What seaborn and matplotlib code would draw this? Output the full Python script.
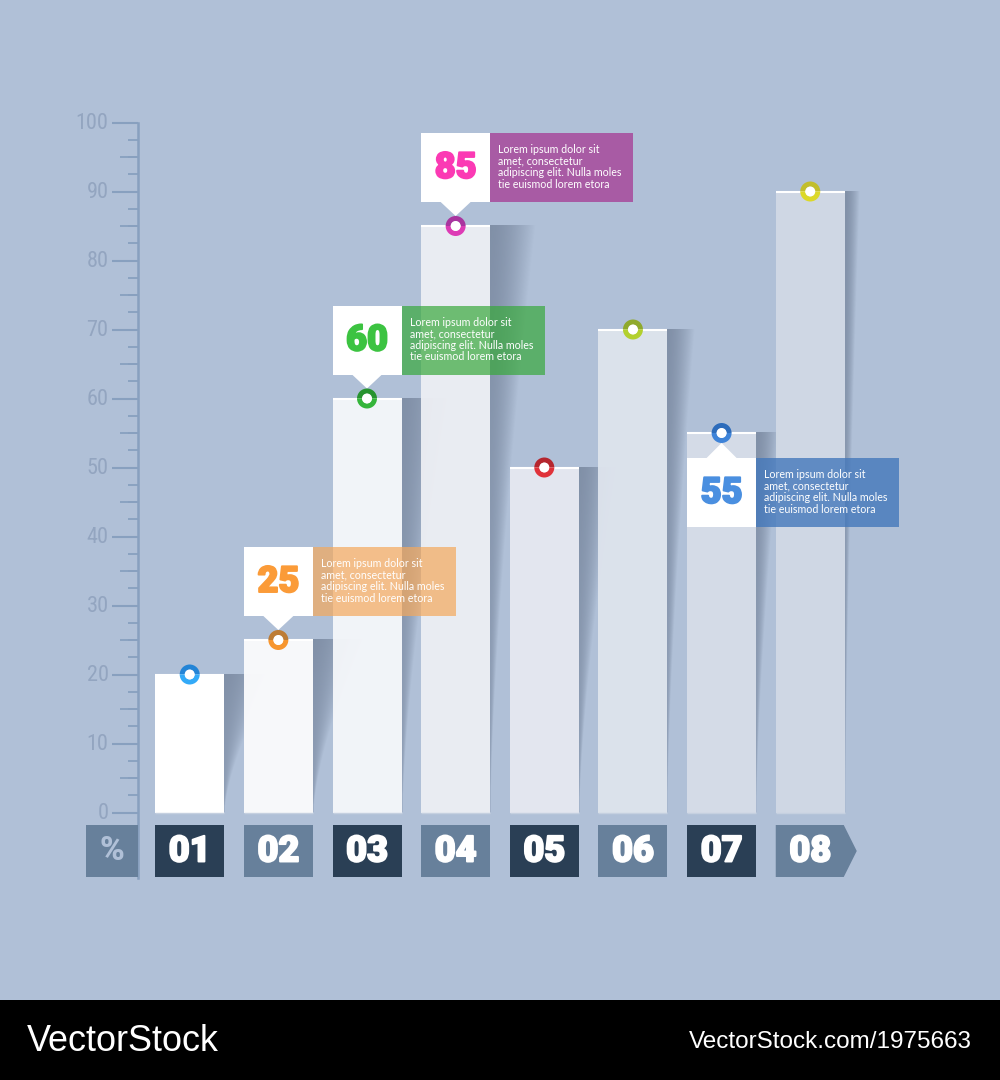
import numpy as np
import pandas as pd
import matplotlib
matplotlib.use("Agg")
import matplotlib.pyplot as plt
import matplotlib.patheffects as pe
from matplotlib import font_manager as fm
from matplotlib.colors import to_rgb
from matplotlib.patches import Rectangle, Polygon, Wedge, Circle
from matplotlib.transforms import Affine2D, ScaledTranslation
import seaborn as sns

categories = ["01", "02", "03", "04", "05", "06", "07", "08"]
values = [20, 25, 60, 85, 50, 70, 55, 90]
bar_colors = ["#ffffff", "#f8f9fb", "#f2f4f8", "#eaedf3", "#e3e7f0", "#dce2ec", "#d5dce7", "#cfd8e4"]
shadow_width = [50, 50, 50, 45, 36, 28, 24, 15]
pin_dark = ["#2384d6", "#bd7c35", "#27932f", "#a9359f", "#b5262e", "#8fa92c", "#2d6cbb", "#c2be2c"]
pin_light = ["#33aaf8", "#f7962f", "#35b53b", "#dd3bb5", "#e0323a", "#b3d02e", "#3e83d8", "#dcd828"]
callout_idx = [1, 2, 3, 6]
callout_num = ["#fb9b38", "#3cc341", "#fb3ab4", "#4a8fe0"]
callout_box = [("#f4a85c", .70), ("#38a83c", .70), ("#a8509f", .90), ("#4478bb", .80)]
lorem = "Lorem ipsum dolor sit\namet, consectetur\nadipiscing elit. Nulla moles\ntie euismod lorem etora"
BG = "#b0c0d7"
DARK, SLATE = "#2a3f55", "#67809b"
AXC = "#88a0bf"

sns.set_theme(style="white")
installed = {f.name for f in fm.fontManager.ttflist}
narrow = [n for n in ["Liberation Sans Narrow", "Roboto Condensed", "Open Sans Condensed", "Noto Sans Condensed"] if n in installed]
tick_family, tick_size = (narrow[0], 16) if narrow else ("Roboto", 14.5)
plt.rcParams["font.family"] = ["Roboto", "DejaVu Sans"]

fig = plt.figure(figsize=(10, 10.8), dpi=100, facecolor=BG)
ax = fig.add_axes([0, 0, 1, 1], facecolor=BG)
pxT = Affine2D().scale(1 / 1000, -1 / 1080).translate(0, 1) + fig.transFigure

x0, dx, y0, dy = 189.7, 88.65, 812.5, 6.9
xlim = (-x0 / dx, (1000 - x0) / dx)
ylim = ((y0 - 1080) / dy, y0 / dy)
bw = 69 / dx
cx = [x0 + dx * i for i in range(len(values))]

df = pd.DataFrame({"cat": categories, "val": values})

# shadows
for i, v in enumerate(values):
    H = v * dy
    W = shadow_width[i]
    rows, cols = max(int(H), 2), 100
    yy = np.linspace(0, 1, rows)[:, None]
    xx = np.linspace(0, W, cols)[None, :]
    w = W * np.clip(1 - yy, 1e-3, 1) ** 1.45
    a = 0.40 * (1 - 0.35 * yy) * np.clip(1 - (xx / w) ** 1.7, 0, 1)
    rgba = np.zeros((rows, cols, 4))
    rgba[..., :3] = np.array([58, 72, 96]) / 255
    rgba[..., 3] = a
    ax.imshow(rgba, extent=(i + bw / 2, i + bw / 2 + W / dx, 0, v), origin="upper",
              aspect="auto", zorder=1, interpolation="bilinear")

# the bars are slightly see-through, so the fill is lifted to land on the wanted tint
BAR_ALPHA = 0.95
lifted = [tuple(np.clip((np.array(to_rgb(c)) - (1 - BAR_ALPHA) * np.array(to_rgb(BG))) / BAR_ALPHA, 0, 1))
          for c in bar_colors]
sns.barplot(data=df, x="cat", y="val", order=categories, hue="cat", hue_order=categories,
            palette=lifted, width=bw, ax=ax, zorder=2, saturation=1, legend=False, dodge=False)
for k, p in enumerate(ax.patches):
    p.set_alpha(1.0 if k == 0 else BAR_ALPHA)
    p.set_edgecolor("none")
ax.hlines(values, np.arange(8) - bw / 2, np.arange(8) + bw / 2, color="white", lw=1.5, zorder=3)
ax.hlines([0] * 8, np.arange(8) - bw / 2, np.arange(8) + bw / 2, color="#c5d0e0", lw=1, zorder=3)

ax.set_xlim(*xlim)
ax.set_ylim(*ylim)
ax.set_xlabel("")
ax.set_ylabel("")
ax.xaxis.set_visible(False)
for s in ["top", "right", "bottom"]:
    ax.spines[s].set_visible(False)
ax.spines["left"].set_position(("data", (138 - x0) / dx))
ax.spines["left"].set_bounds((y0 - 878) / dy, 100)
ax.spines["left"].set_color(AXC)
ax.spines["left"].set_linewidth(1.8)
ax.set_yticks(np.arange(0, 101, 10))
ax.set_yticks(np.arange(0, 100.1, 2.5), minor=True)
ax.tick_params(axis="y", which="major", length=26 * .72, width=1.5, color=AXC, labelcolor="#93a5c0",
               labelsize=tick_size, pad=2.5, left=True)
ax.tick_params(axis="y", which="minor", length=10 * .72, width=1.3, color=AXC, left=True)
lift = ScaledTranslation(0, 1.3 / 72, fig.dpi_scale_trans)
for lab in ax.get_yticklabels():
    lab.set_family(tick_family)
    lab.set_transform(lab.get_transform() + lift)
ax.hlines(np.arange(5, 100, 10), (120 - x0) / dx, (138 - x0) / dx, color=AXC, lw=1.3, zorder=1)

# category tiles
tile_top, tile_h = 825, 52
for i, c in enumerate(categories):
    col = DARK if i % 2 == 0 else SLATE
    l, r = cx[i] - 34.5, cx[i] + 34.5
    if i == len(categories) - 1:
        ax.add_patch(Polygon([(l, tile_top), (r - 1, tile_top), (r + 12, tile_top + 26), (r - 1, tile_top + 52), (l, tile_top + 52)],
                             closed=True, fc=col, ec="none", transform=pxT, zorder=4))
    else:
        ax.add_patch(Rectangle((l, tile_top), 69, tile_h, fc=col, ec="none", transform=pxT, zorder=4))
    ax.text(cx[i], tile_top + 26.5, c, transform=pxT, color="white", fontsize=26, fontweight=900,
            ha="center", va="center", zorder=5,
            path_effects=[pe.withStroke(linewidth=1.4, foreground="white")])
ax.add_patch(Rectangle((86, tile_top), 51.5, tile_h, fc=SLATE, ec="none", transform=pxT, zorder=4))
ax.text(112, tile_top + 26.5, "%", transform=pxT, color="#b0c0d7", fontsize=24, fontweight=900,
        ha="center", va="center", zorder=5)

# callouts
for k, i in enumerate(callout_idx):
    v = values[i]
    top_y = y0 - v * dy
    c = cx[i]
    l = c - 34.5
    if i == 6:
        t = top_y + 25
        pts = [(c - 15, t), (c, t - 15), (c + 15, t)]
    else:
        t = top_y - 93
        pts = [(c - 15, t + 69), (c, t + 83), (c + 15, t + 69)]
    ax.add_patch(Rectangle((l, t), 69, 69, fc="white", ec="none", transform=pxT, zorder=6))
    ax.add_patch(Polygon(pts, closed=True, fc="white", ec="none", transform=pxT, zorder=6))
    col, al = callout_box[k]
    ax.add_patch(Rectangle((l + 69, t), 143, 69, fc=col, alpha=al, ec="none", transform=pxT, zorder=6))
    ax.text(c, t + 35, str(v), transform=pxT, color=callout_num[k], fontsize=26, fontweight=900,
            ha="center", va="center", zorder=7,
            path_effects=[pe.withStroke(linewidth=1.4, foreground=callout_num[k])])
    ax.text(l + 77, t + 34, lorem, transform=pxT, color="white", family="Lato", fontsize=7.7,
            linespacing=1.05, ha="left", va="center", zorder=7)

# pins
for i, v in enumerate(values):
    c, yy = cx[i], y0 - v * dy
    ax.add_patch(Wedge((c, yy), 10, 180, 360, width=5.2, fc=pin_dark[i], ec="none", transform=pxT, zorder=8))
    ax.add_patch(Wedge((c, yy), 10, 0, 180, width=5.2, fc=pin_light[i], ec="none", transform=pxT, zorder=8))
    ax.add_patch(Circle((c, yy), 5, fc="white", ec="none", transform=pxT, zorder=8))

# footer
ax.add_patch(Rectangle((0, 1000), 1000, 80, fc="black", ec="none", transform=pxT, zorder=9))
ax.text(27, 1041.5, "VectorStock", transform=pxT, color="white", family="Liberation Sans", fontsize=25.9,
        ha="left", va="center", zorder=10)
ax.text(972, 1042.5, "VectorStock.com/1975663", transform=pxT, color="white", family="Liberation Sans", fontsize=17.5,
        ha="right", va="center", zorder=10)

fig.savefig("out.png", dpi=100, facecolor=BG)
